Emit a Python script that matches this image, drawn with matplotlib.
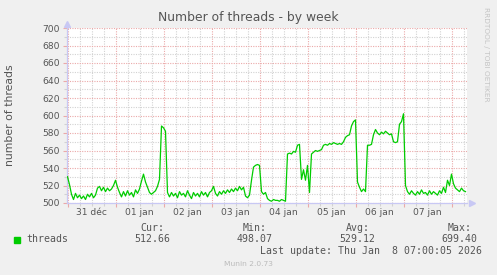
import pandas as pd
import matplotlib
matplotlib.use("Agg")
import matplotlib.pyplot as plt
from matplotlib.patches import Rectangle

# valeurs horaires (nombre de threads), du 31 déc 00:00 au 8 jan 07:00
dec31 = [530, 521, 510, 504, 511, 506, 509, 505, 508, 504, 510, 507,
         511, 506, 509, 517, 519, 514, 518, 513, 517, 514, 516, 520]
jan01 = [526, 518, 512, 507, 513, 508, 514, 509, 512, 507, 515, 511,
         516, 525, 533, 524, 518, 512, 510, 512, 514, 519, 527, 588]
jan02 = [586, 582, 512, 507, 512, 508, 511, 506, 513, 509, 511, 507,
         514, 509, 505, 512, 508, 511, 507, 513, 509, 512, 507, 512]
jan03 = [514, 519, 511, 508, 513, 510, 514, 511, 515, 512, 516, 513,
         517, 514, 519, 515, 518, 508, 506, 509, 526, 541, 543, 544]
jan04 = [543, 513, 510, 512, 505, 503, 502, 504, 503, 503, 502, 504,
         503, 502, 556, 557, 556, 559, 558, 566, 567, 527, 538, 526]
jan05 = [543, 512, 556, 558, 560, 559, 560, 561, 566, 567, 566, 568,
         567, 569, 568, 567, 568, 567, 570, 575, 577, 578, 588, 593]
jan06 = [595, 524, 518, 513, 516, 513, 566, 566, 567, 578, 584, 580,
         578, 581, 579, 582, 580, 578, 579, 570, 569, 570, 590, 593]
jan07 = [602, 520, 513, 510, 514, 511, 509, 513, 510, 515, 511, 512,
         509, 514, 510, 513, 511, 509, 514, 511, 518, 512, 526, 520]
jan08 = [533, 522, 517, 515, 513, 517, 514, 513]

threads = dec31 + jan01 + jan02 + jan03 + jan04 + jan05 + jan06 + jan07 + jan08
times = pd.date_range("2025-12-31 00:00", periods=len(threads), freq="h")

day_labels = ["31 déc", "01 jan", "02 jan", "03 jan", "04 jan", "05 jan", "06 jan", "07 jan"]
stats_names = ["Cur:", "Min:", "Avg:", "Max:"]
stats_values = ["512.66", "498.07", "529.12", "699.40"]

W, H = 497, 275
bg = "#F0F0F0"
txt = "#555555"
green = "#00CC00"
mgrid = "#EBA9A9"
grid = "#D2D2D2"
axcol = "#C8C8F4"


def fx(px):
    return px / W


def fy(py):
    return 1 - py / H


fig = plt.figure(figsize=(W / 100, H / 100), dpi=100, facecolor=bg)
ax = fig.add_axes([fx(67), fy(203), 400 / W, 175 / H])
ax.set_facecolor("white")

ax.plot(times, threads, color=green, lw=0.9, zorder=3)

x0 = pd.Timestamp("2025-12-30 23:45")
x1 = x0 + pd.Timedelta(hours=200)
ax.set_xlim(x0, x1)
ax.set_ylim(500, 700)

# grille : minuit en rouge, toutes les 6 h en gris
midnights = pd.date_range("2025-12-31", "2026-01-08", freq="D")
sixh = [t for t in pd.date_range("2025-12-31", "2026-01-08 06:00", freq="6h") if t.hour != 0]
ax.set_xticks(midnights)
ax.set_xticks(sixh, minor=True)
ax.set_xticklabels([])
ax.set_yticks(range(500, 701, 20))
ax.set_yticks(range(510, 700, 20), minor=True)
ax.set_yticklabels([str(v) for v in range(500, 701, 20)])

dots = (0, (1, 1.2))
ax.grid(True, which="major", color=mgrid, lw=0.8, linestyle=dots, zorder=1)
ax.grid(True, which="minor", color=grid, lw=0.8, linestyle=dots, zorder=1)
ax.set_axisbelow(True)

ax.tick_params(axis="both", which="major", length=3, width=0.8, color=mgrid,
               labelsize=6.6, labelcolor=txt, pad=2)
ax.tick_params(axis="both", which="minor", length=2, width=0.8, color=grid)

for s in ["top", "right"]:
    ax.spines[s].set_visible(False)
for s in ["left", "bottom"]:
    ax.spines[s].set_color(axcol)
    ax.spines[s].set_linewidth(0.9)

# flèches des axes
ax.plot([0], [1.025], marker="^", ms=4.5, color=axcol, transform=ax.transAxes, clip_on=False)
ax.plot([1.012], [0], marker=">", ms=4.5, color=axcol, transform=ax.transAxes, clip_on=False)

# étiquettes des jours, centrées sur midi
for d, lab in zip(midnights[:-1], day_labels):
    ax.text(d + pd.Timedelta(hours=12), -0.055, lab, transform=ax.get_xaxis_transform(),
            ha="center", va="center", fontsize=6.6, color=txt)

fig.text(fx(248), fy(18), "Number of threads - by week", ha="center", va="center",
         fontsize=8.9, color=txt)
fig.text(fx(10.5), fy(115), "number of threads", rotation=90, ha="center", va="center",
         fontsize=7.8, color=txt)
fig.text(fx(486), fy(54), "RRDTOOL / TOBI OETIKER", rotation=270, ha="center", va="center",
         fontsize=5.3, color="#C4C4C4")

# légende Munin
mono = "DejaVu Sans Mono"
fig.add_artist(Rectangle((fx(14), fy(242.5)), 5.5 / W, 5.5 / H,
                         transform=fig.transFigure, color=green))
fig.text(fx(26.5), fy(239.5), "threads", family=mono, fontsize=7.1, color=txt, va="center")
for name, val, xv in zip(stats_names, stats_values, [134, 236.5, 339.3, 441]):
    fig.text(fx(xv + 6.6), fy(228), name, family=mono, fontsize=7.1, color=txt, va="center")
    fig.text(fx(xv), fy(239.5), val, family=mono, fontsize=7.1, color=txt, va="center")
fig.text(fx(482.5), fy(251.5), "Last update: Thu Jan  8 07:00:05 2026", family=mono,
         fontsize=7.1, color=txt, va="center", ha="right")
fig.text(fx(248), fy(264.5), "Munin 2.0.73", fontsize=5.4, color="#BBBBBB",
         ha="center", va="center")

fig.savefig("out.png", dpi=100, facecolor=bg)
